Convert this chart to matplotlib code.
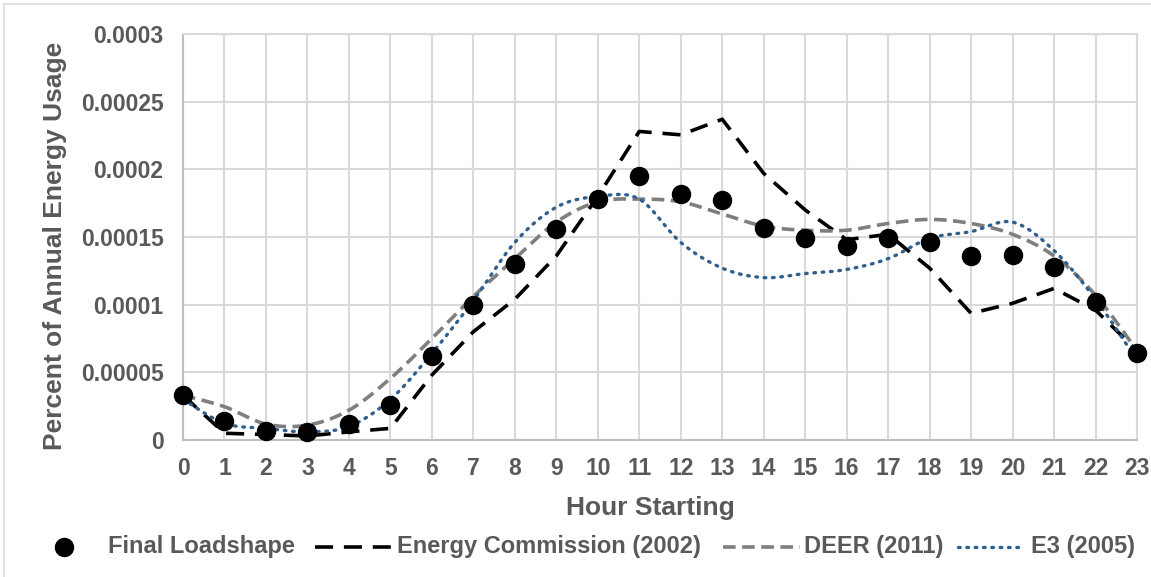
import numpy as np
import matplotlib
matplotlib.use("Agg")
import matplotlib.pyplot as plt
from matplotlib.lines import Line2D
from matplotlib.patches import Rectangle

# ---------------- data ----------------
hours = list(range(24))
final_loadshape = [0.000033, 0.000014, 0.000007, 0.000006, 0.000012, 0.000026,
                   0.000062, 0.000100, 0.000130, 0.000156, 0.000178, 0.000195,
                   0.000182, 0.000177, 0.000157, 0.000149, 0.000143, 0.000149,
                   0.000146, 0.000136, 0.000137, 0.000128, 0.000102, 0.000064]
energy_commission = [0.000033, 0.000005, 0.000004, 0.000003, 0.000006, 0.0000086,
                     0.000048, 0.000080, 0.000104, 0.000136, 0.000180, 0.000228,
                     0.0002255, 0.000237, 0.000197, 0.000170, 0.000148, 0.000152,
                     0.000127, 0.0000936, 0.000101, 0.000112, 0.000096, 0.000066]
deer_2011 = [0.000033, 0.0000246, 0.0000118, 0.000011, 0.000022, 0.0000455,
             0.000075, 0.000106, 0.000134, 0.000161, 0.000176, 0.000178,
             0.000176, 0.000167, 0.000158, 0.000155, 0.000155, 0.000160,
             0.000163, 0.000160, 0.000152, 0.000136, 0.000107, 0.000066]
e3_2005 = [0.000030, 0.0000123, 0.0000086, 0.000006, 0.000010, 0.000030,
           0.000064, 0.000103, 0.000146, 0.000172, 0.000180, 0.000178,
           0.000146, 0.000127, 0.000120, 0.000123, 0.000126, 0.000134,
           0.000149, 0.000154, 0.000161, 0.000140, 0.000104, 0.000059]
y_ticks = [0, 0.00005, 0.0001, 0.00015, 0.0002, 0.00025, 0.0003]
y_tick_labels = ["0", "0.00005", "0.0001", "0.00015", "0.0002", "0.00025", "0.0003"]
series_names = ["Final Loadshape", "Energy Commission (2002)", "DEER (2011)", "E3 (2005)"]

# ---------------- helpers ----------------
def smooth(x, y, n=20):
    """Excel-like smoothed line (Catmull-Rom Bezier) through the given points."""
    x = np.asarray(x, float); y = np.asarray(y, float)
    px = np.concatenate([[x[0]], x, [x[-1]]])
    py = np.concatenate([[y[0]], y, [y[-1]]])
    xs, ys = [], []
    t = np.linspace(0, 1, n, endpoint=False)
    for i in range(1, len(px) - 2):
        p0 = np.array([px[i], py[i]]); p3 = np.array([px[i + 1], py[i + 1]])
        p1 = p0 + (np.array([px[i + 1], py[i + 1]]) - np.array([px[i - 1], py[i - 1]])) / 6
        p2 = p3 - (np.array([px[i + 2], py[i + 2]]) - np.array([px[i], py[i]])) / 6
        b = ((1 - t) ** 3)[:, None] * p0 + (3 * (1 - t) ** 2 * t)[:, None] * p1 \
            + (3 * (1 - t) * t ** 2)[:, None] * p2 + (t ** 3)[:, None] * p3
        xs.extend(b[:, 0]); ys.extend(b[:, 1])
    xs.append(x[-1]); ys.append(y[-1])
    return np.array(xs), np.array(ys)

# ---------------- style ----------------
W, H = 1151, 577
FONT = "Liberation Sans"
TXT = "#595959"
GRID = "#d9d9d9"
BLUE = "#2f5f8f"
GREY = "#7f7f7f"
TICK_FS = 16.5
TITLE_FS = 19
LEG_FS = 17
EC_DASH = (5, 3)
DEER_DASH = (3.5, 1.8)
E3_DOT = (0, (0.5, 2.0))

fig = plt.figure(figsize=(W / 100, H / 100), dpi=100)
fig.patch.set_facecolor("white")

# outer chart border
fig.patches.append(Rectangle((4 / W, -0.1), 1.2, (H - 4) / H + 0.1, transform=fig.transFigure,
                             fill=False, edgecolor="#d9d9d9", linewidth=1.2))

L, R, T, B = 183, 1137, 34, 440
ax = fig.add_axes([L / W, 1 - B / H, (R - L) / W, (B - T) / H])
ax.set_xlim(0, 23)
ax.set_ylim(0, 0.0003)

ax.set_xticks(hours)
ax.set_xticklabels([str(h) for h in hours])
ax.set_yticks(y_ticks)
ax.set_yticklabels(y_tick_labels)
ax.grid(True, color=GRID, linewidth=1.5, zorder=0)
ax.set_axisbelow(True)
for s in ["top", "right"]:
    ax.spines[s].set_color(GRID)
    ax.spines[s].set_linewidth(1.5)
for s in ["left", "bottom"]:
    ax.spines[s].set_color("#bfbfbf")
    ax.spines[s].set_linewidth(1.5)
ax.tick_params(axis="x", length=0, pad=12, labelsize=TICK_FS, labelcolor=TXT)
ax.tick_params(axis="y", length=0, pad=14, labelsize=TICK_FS, labelcolor=TXT)
for lab in ax.get_xticklabels() + ax.get_yticklabels():
    lab.set_fontfamily(FONT)
    lab.set_fontweight("bold")

# series
ax.plot(hours, energy_commission, color="black", linewidth=2.6,
        dashes=EC_DASH, zorder=3, clip_on=False)
sx, sy = smooth(hours, deer_2011)
ax.plot(sx, sy, color=GREY, linewidth=2.6, dashes=DEER_DASH, zorder=3, clip_on=False)
sx, sy = smooth(hours, e3_2005)
ax.plot(sx, sy, color=BLUE, linewidth=2.4, linestyle=E3_DOT,
        dash_capstyle="round", zorder=3, clip_on=False)
ax.plot(hours, final_loadshape, linestyle="none", marker="o", markersize=13,
        color="black", zorder=4, clip_on=False)

# axis titles
fig.text(55 / W, 1 - 246 / H, "Percent of Annual Energy Usage", rotation=90,
         ha="center", va="center", fontsize=TITLE_FS, fontweight="bold", color=TXT, family=FONT)
fig.text(650 / W, 1 - 508 / H, "Hour Starting", ha="center", va="center",
         fontsize=TITLE_FS, fontweight="bold", color=TXT, family=FONT)

# legend (manual)
ly = 1 - 547 / H
fig.add_artist(Line2D([64 / W], [ly], marker="o", markersize=13, color="black",
                      linestyle="none", transform=fig.transFigure))
fig.text(108 / W, ly, series_names[0], ha="left", va="center", fontsize=LEG_FS,
         fontweight="bold", color=TXT, family=FONT)
fig.add_artist(Line2D([315 / W, 392 / W], [ly, ly], color="black", linewidth=2.6,
                      dashes=EC_DASH, transform=fig.transFigure))
fig.text(397 / W, ly, series_names[1], ha="left", va="center", fontsize=LEG_FS,
         fontweight="bold", color=TXT, family=FONT)
fig.add_artist(Line2D([723 / W, 800 / W], [ly, ly], color=GREY, linewidth=2.6,
                      dashes=DEER_DASH, transform=fig.transFigure))
fig.text(804 / W, ly, series_names[2], ha="left", va="center", fontsize=LEG_FS,
         fontweight="bold", color=TXT, family=FONT)
fig.add_artist(Line2D([958 / W, 1024 / W], [ly, ly], color=BLUE, linewidth=2.4,
                      linestyle=E3_DOT, dash_capstyle="round",
                      transform=fig.transFigure))
fig.text(1031 / W, ly, series_names[3], ha="left", va="center", fontsize=LEG_FS,
         fontweight="bold", color=TXT, family=FONT)

fig.savefig("out.png", dpi=100)
